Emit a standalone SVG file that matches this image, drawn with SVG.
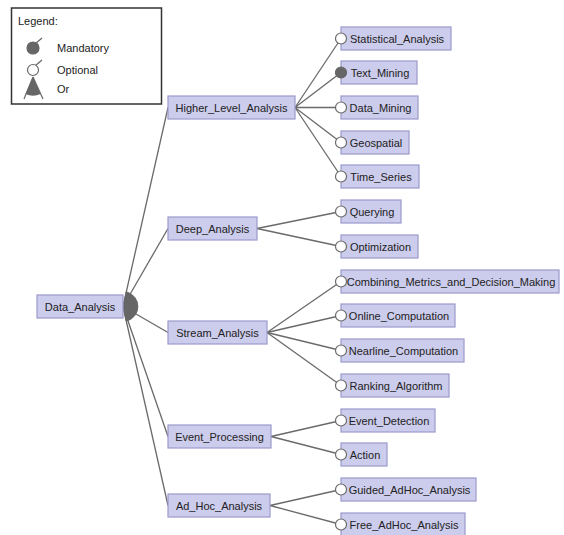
<svg xmlns="http://www.w3.org/2000/svg" width="564" height="535" viewBox="0 0 564 535">
<style>
text{font-family:"Liberation Sans",Arial,sans-serif;font-size:11px;fill:#222}
.n rect{fill:#ccccec;stroke:#9a9acc;stroke-width:1.2}
.n text{text-anchor:middle}
.c line{stroke:#6a6a6a;stroke-width:1.3}
.opt{fill:#fff;stroke:#6a6a6a;stroke-width:1.2}
.man{fill:#666;stroke:#666;stroke-width:1.2}
</style>
<rect width="564" height="535" fill="#fff"/>
<g id="legend">
<rect x="11.5" y="8" width="150" height="96" fill="#fff" stroke="#333" stroke-width="1.5"/>
<text x="18" y="25">Legend:</text>
<line x1="35" y1="44" x2="42" y2="38" stroke="#666" stroke-width="1.2"/>
<circle cx="33" cy="48" r="6" class="man"/>
<text x="57" y="52">Mandatory</text>
<line x1="35" y1="66" x2="42" y2="60" stroke="#666" stroke-width="1.2"/>
<circle cx="33" cy="70" r="5.5" class="opt"/>
<text x="57" y="74">Optional</text>
<path d="M33,77 L25.5,94 A18,18 0 0 0 40.5,94 Z" fill="#666"/>
<line x1="33" y1="77" x2="24" y2="99" stroke="#666" stroke-width="1.2"/>
<line x1="33" y1="77" x2="43" y2="99" stroke="#666" stroke-width="1.2"/>
<text x="57" y="93">Or</text>
</g>
<g id="connectors" class="c">
<line x1="123" y1="306.5" x2="168" y2="107.5"/>
<line x1="123" y1="306.5" x2="168" y2="228.5"/>
<line x1="123" y1="306.5" x2="168" y2="332.5"/>
<line x1="123" y1="306.5" x2="168" y2="436.5"/>
<line x1="123" y1="306.5" x2="168" y2="505.5"/>
<path d="M123,306.5 L126.3,291.9 A15,15 0 0 1 126.3,321.1 Z" fill="#666" stroke="#666" stroke-width="1"/>
<line x1="295" y1="107.5" x2="341" y2="38.5"/>
<line x1="295" y1="107.5" x2="341" y2="72.5"/>
<line x1="295" y1="107.5" x2="341" y2="107.5"/>
<line x1="295" y1="107.5" x2="341" y2="142.5"/>
<line x1="295" y1="107.5" x2="341" y2="176.5"/>
<line x1="257" y1="228.5" x2="341" y2="211.5"/>
<line x1="257" y1="228.5" x2="341" y2="246.5"/>
<line x1="267" y1="332.5" x2="341" y2="281.5"/>
<line x1="267" y1="332.5" x2="341" y2="315.5"/>
<line x1="267" y1="332.5" x2="341" y2="350.5"/>
<line x1="267" y1="332.5" x2="341" y2="385.5"/>
<line x1="271" y1="436.5" x2="341" y2="420.5"/>
<line x1="271" y1="436.5" x2="341" y2="454.5"/>
<line x1="270" y1="505.5" x2="341" y2="489.5"/>
<line x1="270" y1="505.5" x2="341" y2="524.5"/>
</g>
<g id="Data_Analysis" class="n"><rect x="37" y="295" width="86" height="23"/><text x="80" y="310.5">Data_Analysis</text></g>
<g id="Higher_Level_Analysis" class="n"><rect x="168" y="96" width="127" height="23"/><text x="231.5" y="111.5">Higher_Level_Analysis</text></g>
<g id="Deep_Analysis" class="n"><rect x="168" y="217" width="89" height="23"/><text x="212.5" y="232.5">Deep_Analysis</text></g>
<g id="Stream_Analysis" class="n"><rect x="168" y="321" width="99" height="23"/><text x="217.5" y="336.5">Stream_Analysis</text></g>
<g id="Event_Processing" class="n"><rect x="168" y="425" width="103" height="23"/><text x="219.5" y="440.5">Event_Processing</text></g>
<g id="Ad_Hoc_Analysis" class="n"><rect x="168" y="494" width="102" height="23"/><text x="219" y="509.5">Ad_Hoc_Analysis</text></g>
<g id="Statistical_Analysis" class="n"><rect x="341" y="27" width="110" height="23"/><text x="397" y="42.5">Statistical_Analysis</text><circle cx="341" cy="38.5" r="5.5" class="opt"/></g>
<g id="Text_Mining" class="n"><rect x="341" y="61" width="76" height="23"/><text x="380" y="76.5">Text_Mining</text><circle cx="341" cy="72.5" r="5.5" class="man"/></g>
<g id="Data_Mining" class="n"><rect x="341" y="96" width="77" height="23"/><text x="380.5" y="111.5">Data_Mining</text><circle cx="341" cy="107.5" r="5.5" class="opt"/></g>
<g id="Geospatial" class="n"><rect x="341" y="131" width="68" height="23"/><text x="376" y="146.5">Geospatial</text><circle cx="341" cy="142.5" r="5.5" class="opt"/></g>
<g id="Time_Series" class="n"><rect x="341" y="165" width="78" height="23"/><text x="381" y="180.5">Time_Series</text><circle cx="341" cy="176.5" r="5.5" class="opt"/></g>
<g id="Querying" class="n"><rect x="341" y="200" width="60" height="23"/><text x="372" y="215.5">Querying</text><circle cx="341" cy="211.5" r="5.5" class="opt"/></g>
<g id="Optimization" class="n"><rect x="341" y="235" width="77" height="23"/><text x="380.5" y="250.5">Optimization</text><circle cx="341" cy="246.5" r="5.5" class="opt"/></g>
<g id="Combining_Metrics_and_Decision_Making" class="n"><rect x="341" y="270" width="218" height="23"/><text x="451" y="285.5">Combining_Metrics_and_Decision_Making</text><circle cx="341" cy="281.5" r="5.5" class="opt"/></g>
<g id="Online_Computation" class="n"><rect x="341" y="304" width="114" height="23"/><text x="399" y="319.5">Online_Computation</text><circle cx="341" cy="315.5" r="5.5" class="opt"/></g>
<g id="Nearline_Computation" class="n"><rect x="341" y="339" width="123" height="23"/><text x="403.5" y="354.5">Nearline_Computation</text><circle cx="341" cy="350.5" r="5.5" class="opt"/></g>
<g id="Ranking_Algorithm" class="n"><rect x="341" y="374" width="108" height="23"/><text x="396" y="389.5">Ranking_Algorithm</text><circle cx="341" cy="385.5" r="5.5" class="opt"/></g>
<g id="Event_Detection" class="n"><rect x="341" y="409" width="94" height="23"/><text x="389" y="424.5">Event_Detection</text><circle cx="341" cy="420.5" r="5.5" class="opt"/></g>
<g id="Action" class="n"><rect x="341" y="443" width="46" height="23"/><text x="365" y="458.5">Action</text><circle cx="341" cy="454.5" r="5.5" class="opt"/></g>
<g id="Guided_AdHoc_Analysis" class="n"><rect x="341" y="478" width="135" height="23"/><text x="409.5" y="493.5">Guided_AdHoc_Analysis</text><circle cx="341" cy="489.5" r="5.5" class="opt"/></g>
<g id="Free_AdHoc_Analysis" class="n"><rect x="341" y="513" width="124" height="23"/><text x="404" y="528.5">Free_AdHoc_Analysis</text><circle cx="341" cy="524.5" r="5.5" class="opt"/></g>
</svg>
